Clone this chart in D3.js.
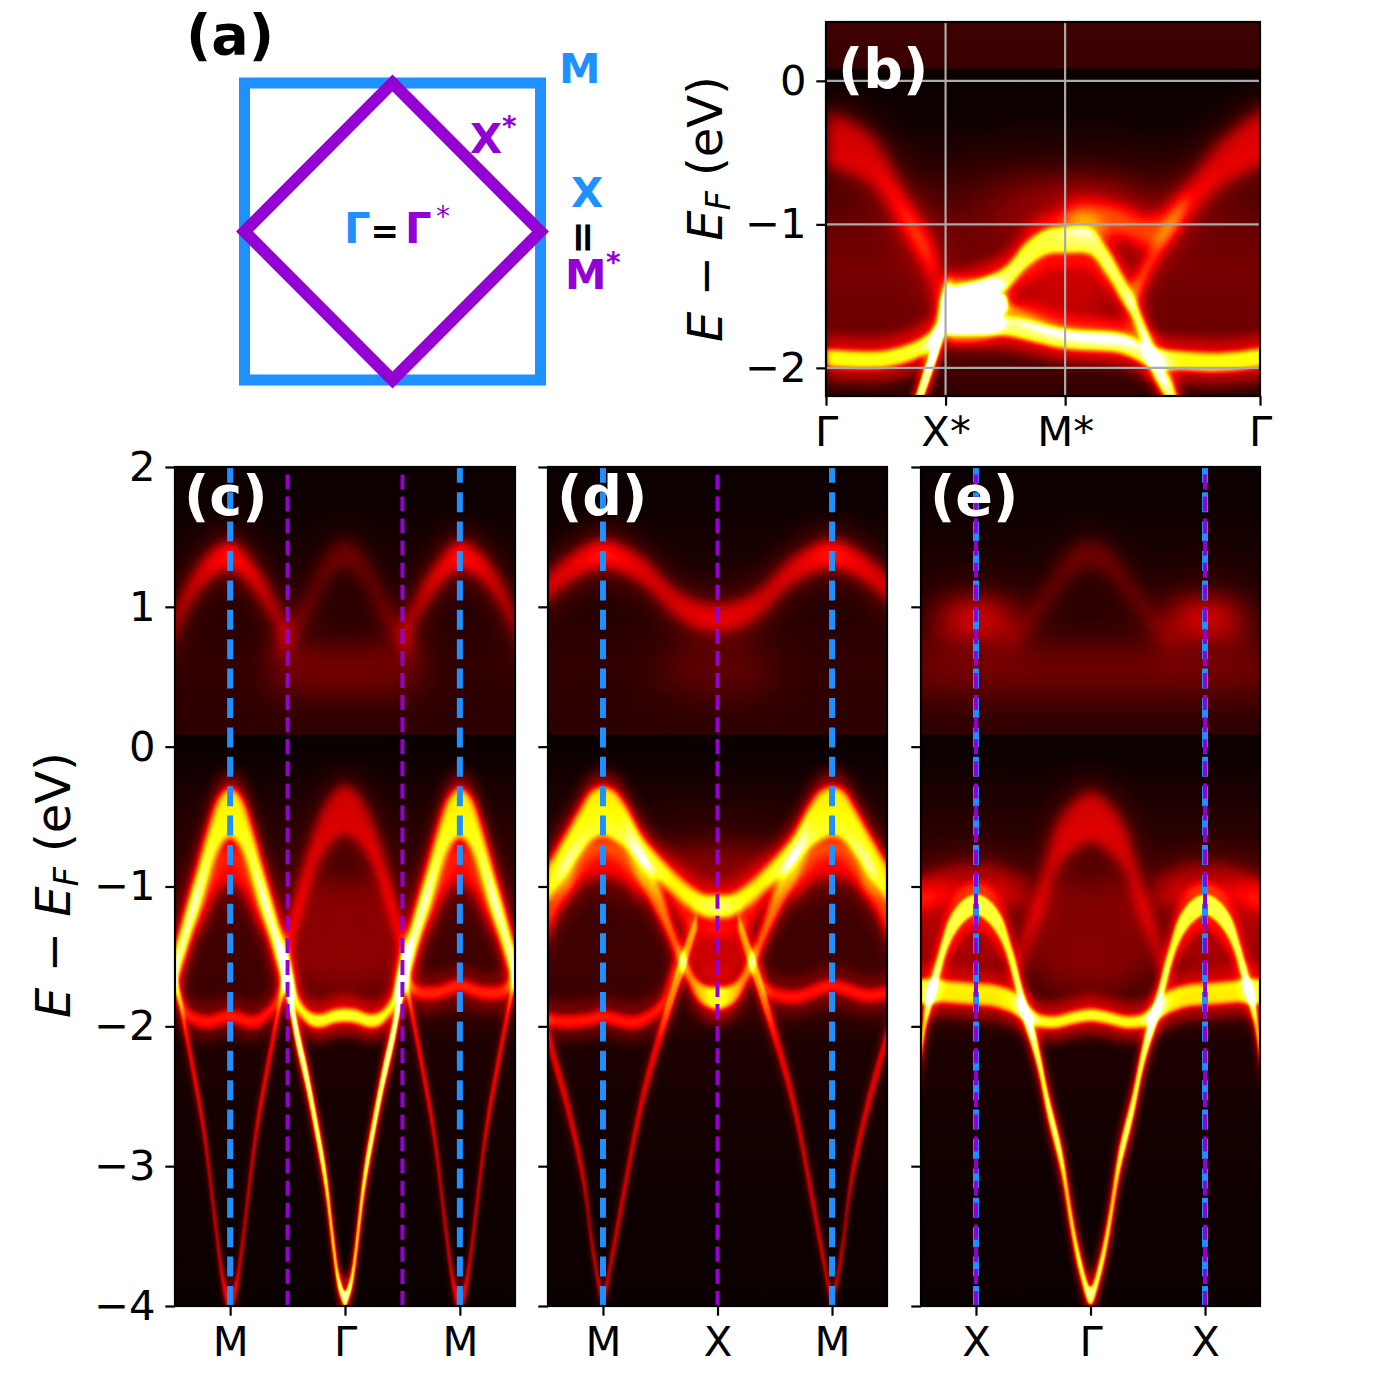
<!DOCTYPE html>
<html>
<head>
<meta charset="utf-8">
<script src="https://cdnjs.cloudflare.com/ajax/libs/d3/7.8.5/d3.min.js"></script>
<style>
    html, body { margin: 0; padding: 0; background: #fff; }
    text { font-family: "DejaVu Sans"; }
    .band { mix-blend-mode: plus-lighter; }
</style>
</head>
<body>
<svg id="chart" width="1400" height="1400" viewBox="0 0 1400 1400"></svg>
<script>
//----- COLOUR MAP (matplotlib hot) ----------------//
var hotStops = [0, 0.365079, 0.746032, 1];
var hotR = [0.0416, 1, 1, 1];
var hotG = [0, 0, 1, 1];
var hotB = [0, 0, 0, 1];

//----- BACKGROUND SPECTRAL WEIGHT vs ENERGY --------//
var bgE = [2, 1.6, 1.2, 0.6, 0.09, 0.08, 0, -0.2, -0.5, -1, -1.5, -1.85, -2.1, -2.5, -3, -4];
var bgI = [0, 0.01, 0.03, 0.06, 0.05, 0, 0, 0.015, 0.04, 0.07, 0.08, 0.07, 0.03, 0.02, 0.01, 0];
var bBgE = [0.41, 0.09, 0.08, 0, -0.3, -0.6, -1, -1.3, -1.7, -1.95, -2.05, -2.2];
var bBgI = [0.08, 0.07, 0, 0, 0.01, 0.05, 0.14, 0.16, 0.15, 0.1, 0.08, 0.06];

//----- PANEL (c) M-GAMMA-M -------------------------//
var cValK = [0.46, 0.5, 0.6, 0.7, 0.8, 0.9, 1, 1.1, 1.2, 1.3, 1.4, 1.5, 1.54];
var cValE = [-1.75, -1.63, -1.36, -1.08, -0.78, -0.55, -0.47, -0.55, -0.78, -1.08, -1.36, -1.63, -1.75];
var cValI = [0.85, 0.92, 0.86, 0.76, 0.68, 0.66, 0.66, 0.66, 0.68, 0.76, 0.86, 0.92, 0.85];
var cValW = [0.1, 0.12, 0.16, 0.18, 0.2, 0.21, 0.2, 0.21, 0.2, 0.18, 0.16, 0.12, 0.1];
var cInnerK = [0.7, 0.8, 0.9, 1, 1.1, 1.2, 1.3];
var cInnerE = [-1.25, -1.05, -0.9, -0.85, -0.9, -1.05, -1.25];
var cVeeK = [0, 0.03, 0.06, 0.1, 0.17, 0.25, 0.33, 0.43, 0.5, 0.56];
var cVeeE = [-3.95, -3.9, -3.81, -3.57, -3.09, -2.72, -2.38, -2.02, -1.7, -1.45];
var cVeeI = [0.88, 0.88, 0.88, 0.88, 0.88, 0.88, 0.88, 0.88, 0.75, 0];
var cVeeW = [0.06, 0.06, 0.07, 0.09, 0.1, 0.1, 0.1, 0.1, 0.1, 0.1];
var cMVeeK = [0.5, 0.57, 0.65, 0.77, 0.87, 0.9, 0.94, 0.97, 1, 1.03, 1.06, 1.1, 1.13, 1.23, 1.35, 1.43, 1.5];
var cMVeeE = [-1.55, -1.85, -2.19, -2.74, -3.4, -3.6, -3.83, -3.93, -3.97, -3.93, -3.83, -3.6, -3.4, -2.74, -2.19, -1.85, -1.55];
var cFlatK = [0, 0.1, 0.2, 0.3, 0.4, 0.46, 0.52];
var cFlatE = [-1.92, -1.93, -1.96, -1.95, -1.86, -1.74, -1.6];
var cLeftK = [-1.6, -1.48, -1.43, -1.35, -1.2, -1, -0.8, -0.7, -0.6, -0.55, -0.5];
var cLeftE = [-1.6, -1.72, -1.82, -1.93, -1.97, -1.93, -1.97, -1.93, -1.83, -1.72, -1.6];
var cRightK = [0.5, 0.55, 0.62, 0.8, 1, 1.2, 1.38, 1.45, 1.52, 1.6];
var cRightE = [-1.55, -1.68, -1.75, -1.76, -1.71, -1.76, -1.75, -1.68, -1.55, -1.4];
var cDomeK = [0, 0.1, 0.2, 0.3, 0.38, 0.43, 0.5, 0.55];
var cDomeE = [-0.45, -0.5, -0.62, -0.82, -1.05, -1.2, -1.4, -1.55];
var cDomeI = [0.25, 0.25, 0.25, 0.27, 0.34, 0.38, 0.4, 0.36];
var cDomeW = [0.2, 0.2, 0.19, 0.16, 0.12, 0.1, 0.08, 0.07];
var cFillK = [0, 0.2, 0.35, 0.45, 0.5];
var cFillE = [-1.35, -1.35, -1.4, -1.5, -1.6];
var cFillW = [0.45, 0.45, 0.4, 0.2, 0.1];
var cUpK = [0.5, 0.6, 0.7, 0.8, 0.9, 1, 1.1, 1.2, 1.3, 1.4, 1.5, 1.6];
var cUpE = [0.78, 0.95, 1.1, 1.22, 1.32, 1.37, 1.34, 1.28, 1.17, 1.03, 0.84, 0.6];
var cUpI = [0.18, 0.2, 0.27, 0.3, 0.32, 0.36, 0.32, 0.3, 0.27, 0.24, 0.22, 0.2];
var cUpGK = [0, 0.1, 0.2, 0.3, 0.4, 0.5, 0.6];
var cUpGE = [1.38, 1.34, 1.22, 1.05, 0.9, 0.78, 0.7];
var cUpGI = [0.12, 0.12, 0.12, 0.12, 0.12, 0.15, 0.09];
var cGlowK = [0, 0.3, 0.6, 0.75];
var cGlowI = [0.09, 0.09, 0.07, 0];

//----- PANEL (d) M-X-M ------------------------------//
var dUpK = [0, 0.2, 0.4, 0.6, 0.8, 1, 1.2, 1.4, 1.6];
var dUpE = [0.92, 0.95, 1.05, 1.22, 1.33, 1.38, 1.32, 1.2, 1.05];
var dUpI = [0.26, 0.26, 0.25, 0.27, 0.31, 0.36, 0.31, 0.27, 0.25];
var dGlowK = [0, 0.3, 0.6];
var dGlowI = [0.07, 0.06, 0];
var dValK = [0, 0.1, 0.2, 0.35, 0.5, 0.66, 0.8, 0.9, 1, 1.1, 1.2, 1.35, 1.48, 1.6];
var dValE = [-1.14, -1.14, -1.1, -1, -0.88, -0.74, -0.57, -0.49, -0.46, -0.49, -0.6, -0.8, -0.97, -1.1];
var dValI = [0.7, 0.66, 0.6, 0.54, 0.56, 0.6, 0.66, 0.66, 0.66, 0.66, 0.66, 0.62, 0.58, 0.55];
var dValW = [0.09, 0.09, 0.09, 0.09, 0.1, 0.12, 0.17, 0.2, 0.2, 0.2, 0.18, 0.16, 0.15, 0.14];
var dInnerK = [0.65, 0.8, 1, 1.2, 1.35];
var dInnerE = [-1, -0.85, -0.8, -0.85, -1];
var dArmK = [0, 0.15, 0.3, 0.47, 0.58, 0.7, 0.8];
var dArmE = [-1.8, -1.76, -1.54, -1.19, -1, -0.8, -0.62];
var dArmI = [0.7, 0.55, 0.4, 0.42, 0.38, 0.2, 0.05];
var dArmW = [0.09, 0.08, 0.08, 0.12, 0.14, 0.16, 0.18];
var dEdgeK = [1.25, 1.4, 1.48, 1.6];
var dEdgeE = [-0.9, -1.1, -1.25, -1.45];
var dEdgeI = [0.1, 0.3, 0.35, 0.3];
var dVeeK = [0.18, 0.3, 0.38, 0.53, 0.67, 0.82, 0.92, 1, 1.08, 1.17, 1.31, 1.45, 1.6];
var dVeeE = [-1.25, -1.54, -1.74, -2.14, -2.57, -3.2, -3.64, -3.93, -3.64, -3.09, -2.57, -2.16, -1.7];
var dVeeI = [0.25, 0.4, 0.42, 0.3, 0.28, 0.28, 0.28, 0.3, 0.28, 0.28, 0.28, 0.28, 0.28];
var dVeeW = [0.07, 0.1, 0.1, 0.09, 0.09, 0.09, 0.08, 0.06, 0.08, 0.09, 0.09, 0.09, 0.09];
var dLeftK = [-1.6, -1.48, -1.3, -1.1, -1, -0.9, -0.7, -0.5, -0.42, -0.36];
var dLeftE = [-1.9, -1.95, -1.97, -1.95, -1.93, -1.95, -1.97, -1.86, -1.69, -1.55];
var dRightK = [0.36, 0.42, 0.5, 0.7, 0.9, 1, 1.1, 1.3, 1.48, 1.6];
var dRightE = [-1.55, -1.72, -1.77, -1.79, -1.73, -1.71, -1.73, -1.78, -1.76, -1.72];
var dFillK = [0, 0.2, 0.4, 0.6, 0.7];
var dFillE = [-0.85, -0.85, -0.85, -0.95, -0.95];
var dFillI = [0.13, 0.13, 0.12, 0.08, 0];
var dRingK = [0, 0.1, 0.2, 0.3, 0.4];
var dRingE = [-1.45, -1.45, -1.4, -1.2, -1.05];
var dRingI = [0.2, 0.2, 0.2, 0.26, 0.12];
var dRingW = [0.2, 0.2, 0.17, 0.1, 0.05];

//----- PANEL (e) X-GAMMA-X --------------------------//
var eBandK = [0, 0.09, 0.17, 0.25, 0.37, 0.46, 0.57, 0.69, 0.78, 0.9, 1, 1.1, 1.22, 1.31, 1.43, 1.48, 1.6];
var eBandE = [-3.93, -3.71, -3.38, -2.97, -2.57, -2.21, -1.9, -1.52, -1.3, -1.17, -1.13, -1.17, -1.3, -1.52, -1.9, -2.14, -2.6];
var eBandI = [0.86, 0.86, 0.86, 0.86, 0.86, 0.84, 0.75, 0.6, 0.55, 0.52, 0.52, 0.52, 0.55, 0.6, 0.66, 0.75, 0.8];
var eBandW = [0.07, 0.08, 0.09, 0.1, 0.1, 0.1, 0.1, 0.1, 0.1, 0.09, 0.08, 0.09, 0.1, 0.1, 0.1, 0.1, 0.1];
var eFlatK = [0, 0.15, 0.3, 0.45, 0.57, 0.7, 0.85, 1, 1.15, 1.3, 1.48, 1.6];
var eFlatE = [-1.92, -1.94, -1.97, -1.96, -1.9, -1.82, -1.78, -1.77, -1.76, -1.75, -1.75, -1.75];
var eFlatI = [0.68, 0.68, 0.68, 0.68, 0.74, 0.62, 0.6, 0.6, 0.6, 0.6, 0.64, 0.64];
var eFlatW = [0.05, 0.05, 0.05, 0.05, 0.06, 0.09, 0.09, 0.09, 0.09, 0.09, 0.1, 0.1];
var eDomeK = [0, 0.15, 0.3, 0.43, 0.58, 0.66];
var eDomeE = [-0.5, -0.57, -0.72, -1.07, -1.43, -1.65];
var eDomeI = [0.26, 0.25, 0.25, 0.27, 0.27, 0.25];
var eDomeW = [0.2, 0.2, 0.18, 0.13, 0.1, 0.08];
var eFillK = [0, 0.2, 0.4, 0.5];
var eFillW = [0.45, 0.45, 0.4, 0.2];
var eXGlowK = [0.7, 0.85, 1, 1.15, 1.3, 1.48, 1.6];
var eArcK = [0.55, 0.7, 0.85, 1, 1.15, 1.3, 1.48, 1.6];
var eArcE = [-1.05, -1, -0.95, -0.95, -0.95, -1, -1.05, -1.1];
var eArcI = [0.12, 0.14, 0.14, 0.14, 0.14, 0.17, 0.2, 0.2];
var eUpK = [0, 0.15, 0.3, 0.45, 0.6, 0.75];
var eUpE = [1.38, 1.33, 1.18, 1, 0.85, 0.75];
var eUpI = [0.12, 0.12, 0.11, 0.09, 0.07, 0.04];
var eBlobK = [0.55, 0.7, 0.85, 1, 1.15, 1.3, 1.45];
var eBlobE = [0.88, 0.9, 0.92, 0.92, 0.92, 0.9, 0.88];
var eBlobI = [0, 0.12, 0.22, 0.24, 0.22, 0.12, 0.03];
var eGlowK = [0, 0.8, 1.6];

//----- PANEL (b) GAMMA-X*-M*-GAMMA ------------------//
var bFlatK = [0, 0.48, 0.79, 0.92, 0.97, 1.03];
var bFlatE = [-1.93, -1.94, -1.86, -1.77, -1.58, -1.45];
var bFlatI = [0.62, 0.62, 0.64, 0.7, 0.6, 0.3];
var bLegK = [0, 0.37, 0.65, 0.87, 0.95, 1];
var bLegE = [-0.4, -0.54, -0.91, -1.24, -1.51, -1.6];
var bLegI = [0.28, 0.25, 0.3, 0.4, 0.42, 0.38];
var bLegW = [0.22, 0.2, 0.15, 0.12, 0.1, 0.08];
var bVeeK = [0.6, 0.787, 0.92, 1, 1.05];
var bVeeE = [-2.7, -2.19, -1.86, -1.63, -1.45];
var bVeeI = [0.8, 0.8, 0.8, 0.8, 0];
var bTopK = [1, 1.34, 1.51, 1.68, 1.85, 2, 2.21, 2.35, 2.46, 2.57, 2.69, 2.79, 2.89, 3];
var bTopE = [-1.52, -1.44, -1.37, -1.21, -1.12, -1.11, -1.12, -1.26, -1.42, -1.58, -1.84, -2.05, -2.19, -2.45];
var bTopI = [0.62, 0.64, 0.62, 0.58, 0.58, 0.58, 0.58, 0.6, 0.62, 0.66, 0.72, 0.75, 0.8, 0.8];
var bTopW = [0.08, 0.08, 0.09, 0.1, 0.1, 0.1, 0.1, 0.1, 0.1, 0.09, 0.1, 0.1, 0.1, 0.1];
var bWhiteK = [1, 1.1, 1.25, 1.4, 1.5];
var bWhiteE = [-1.6, -1.6, -1.6, -1.58, -1.55];
var bWhiteW = [0.12, 0.12, 0.12, 0.11, 0.05];
var bBotK = [1, 1.2, 1.51, 2, 2.46, 2.74, 3, 3.3, 3.63, 3.8];
var bBotE = [-1.7, -1.7, -1.71, -1.8, -1.83, -1.93, -1.95, -1.96, -1.93, -1.9];
var bBotI = [0.68, 0.68, 0.62, 0.58, 0.6, 0.66, 0.62, 0.62, 0.62, 0.62];
var bLoopK = [1.46, 1.6, 2, 2.5, 2.6];
var bLoopE = [-1.55, -1.63, -1.76, -1.8, -1.82];
var bDomeK = [2, 2.2, 2.46, 2.74, 3.02, 3.3, 3.63, 3.8];
var bDomeE = [-0.95, -0.95, -0.98, -1.05, -0.84, -0.58, -0.4, -0.35];
var bDomeI = [0.2, 0.28, 0.28, 0.28, 0.26, 0.26, 0.28, 0.28];
var bDomeW = [0.12, 0.12, 0.12, 0.12, 0.14, 0.18, 0.22, 0.22];
var bBranchK = [2.55, 2.63, 2.74, 2.9, 3.02];
var bBranchE = [-1.5, -1.4, -1.22, -1, -0.84];
var bBranchI = [0.3, 0.33, 0.22, 0.18, 0.08];
var bCoreK = [1.6, 1.8, 2, 2.2, 2.4];
var bCoreI = [0.08, 0.12, 0.12, 0.12, 0.08];
var bGlowK = [1.2, 1.6, 2, 2.4, 2.8];
var bGlowI = [0, 0.08, 0.12, 0.08, 0];

//----- TICKS AND LABELS -----------------------------//
var energyTicks = [2, 1, 0, -1, -2, -3, -4];
var bEnergyTicks = [0, -1, -2];
var cTickK = [-1, 0, 1];
var cTickLabels = ['M', '\u0393', 'M'];
var dTickLabels = ['M', 'X', 'M'];
var eTickLabels = ['X', '\u0393', 'X'];
var bTickK = [0, 1, 2, 3.63];
var bTickLabels = ['\u0393', 'X*', 'M*', '\u0393'];
var bGridE = [0, -1, -2];
var bGridK = [1, 2];
var squareX = [-1, 1, 1, -1];
var squareY = [1, 1, -1, -1];
var diamondX = [0, 1, 0, -1];
var diamondY = [1, 0, -1, 0];

//----- SETTINGS ---------------------------------------//
var BLUE = '#1e90ff',
    VIOLET = '#9400d3',
    TICK_FONT = 41.7,
    LABEL_FONT = 48,
    TAG_FONT = 55.5,
    STROKE = 2.2,
    TICK_LEN = 9.7,
    TICK_PAD = 11;

// a broadened peak is drawn as a sharp core on top of a wide skirt
var LAYERS = [
    { w: 1, add: 0.09, i: 0.28, s: 2.2 },
    { w: 0.88, add: 0, i: 0.78, s: 1 }
];

var svg = d3.select('#chart');
var defs = svg.append('defs');

// hot colour map as a filter on the summed grey weight
var hotFilter = defs.append('filter').attr('id', 'hot')
    .attr('filterUnits', 'userSpaceOnUse')
    .attr('x', 0).attr('y', 0).attr('width', 1400).attr('height', 1400)
    .attr('color-interpolation-filters', 'sRGB');
var transfer = hotFilter.append('feComponentTransfer');
function addChannel(tag, values) {
    var scale = d3.scaleLinear().domain(hotStops).range(values);
    transfer.append(tag).attr('type', 'table')
        .attr('tableValues', d3.range(0, 256).map(function (i) { return scale(i / 255).toFixed(4); }).join(' '));
}
addChannel('feFuncR', hotR);
addChannel('feFuncG', hotG);
addChannel('feFuncB', hotB);

var blurIds = {};
function blurId(sigma) {
    var id = 'blur' + String(sigma.toFixed(2)).replace('.', '_');
    if (!blurIds[id]) {
        blurIds[id] = true;
        defs.append('filter').attr('id', id)
            .attr('filterUnits', 'userSpaceOnUse')
            .attr('x', 0).attr('y', 0).attr('width', 1400).attr('height', 1400)
            .attr('color-interpolation-filters', 'sRGB')
            .append('feGaussianBlur').attr('stdDeviation', sigma);
    }
    return 'url(#' + id + ')';
}

function grey(i) {
    var v = Math.round(Math.min(1, Math.max(0, i)) * 255);
    return 'rgb(' + v + ',' + v + ',' + v + ')';
}

function at(v, i) { return typeof v === 'number' ? v : v[i]; }

// one broadened band: [k, E, weight, half width, blur px, mode]
// mode 'unfold' reflects through k=0 as one shape, 'mirror' draws a second copy at -k
function expandBand(b) {
    var pts = b[0].map(function (k, i) {
        return { k: k, E: b[1][i], I: at(b[2], i), W: at(b[3], i) };
    });
    var mode = b[5];
    if (mode === 'unfold') {
        var left = pts.slice(1).map(function (p) { return { k: -p.k, E: p.E, I: p.I, W: p.W }; });
        return [left.concat(pts)];
    }
    if (mode === 'mirror') {
        return [pts, pts.map(function (p) { return { k: -p.k, E: p.E, I: p.I, W: p.W }; })];
    }
    return [pts];
}

var gradCount = 0;

function drawPanel(p) {
    var x = d3.scaleLinear().domain(p.kDomain).range([p.left, p.right]);
    var y = d3.scaleLinear().domain(p.eDomain).range([p.top, p.bottom]);
    var W = p.right - p.left, H = p.bottom - p.top;

    defs.append('clipPath').attr('id', 'clip' + p.id)
        .append('rect').attr('x', p.left).attr('y', p.top).attr('width', W).attr('height', H);

    var bg = defs.append('linearGradient').attr('id', 'bg' + p.id)
        .attr('gradientUnits', 'userSpaceOnUse')
        .attr('x1', 0).attr('x2', 0)
        .attr('y1', y(p.bgE[0])).attr('y2', y(p.bgE[p.bgE.length - 1]));
    var bgSpan = p.bgE[p.bgE.length - 1] - p.bgE[0];
    p.bgE.forEach(function (e, i) {
        bg.append('stop').attr('offset', (e - p.bgE[0]) / bgSpan).attr('stop-color', grey(p.bgI[i]));
    });

    var root = svg.append('g').attr('clip-path', 'url(#clip' + p.id + ')');
    var heat = root.append('g').attr('filter', 'url(#hot)').style('isolation', 'isolate');
    heat.append('rect').attr('x', p.left).attr('y', p.top).attr('width', W).attr('height', H).attr('fill', '#000');
    heat.append('rect').attr('class', 'band').attr('x', p.left).attr('y', p.top).attr('width', W).attr('height', H)
        .attr('fill', 'url(#bg' + p.id + ')');

    p.bands.forEach(function (b) {
        expandBand(b).forEach(function (pts) {
            pts = pts.slice().sort(function (u, v) { return u.k - v.k; });
            var k0 = pts[0].k, k1 = pts[pts.length - 1].k;
            LAYERS.forEach(function (layer) {
                var area = d3.area()
                    .x(function (d) { return x(d.k); })
                    .y0(function (d) { return y(d.E + d.W * layer.w + layer.add); })
                    .y1(function (d) { return y(d.E - d.W * layer.w - layer.add); })
                    .curve(d3.curveCatmullRom);
                var gid = 'g' + (gradCount++);
                var grad = defs.append('linearGradient').attr('id', gid)
                    .attr('gradientUnits', 'userSpaceOnUse')
                    .attr('x1', x(k0)).attr('x2', x(k1)).attr('y1', 0).attr('y2', 0);
                pts.forEach(function (d) {
                    grad.append('stop').attr('offset', (d.k - k0) / (k1 - k0)).attr('stop-color', grey(d.I * layer.i));
                });
                heat.append('path').attr('class', 'band')
                    .attr('d', area(pts))
                    .attr('fill', 'url(#' + gid + ')')
                    .attr('filter', blurId(b[4] * layer.s));
            });
        });
    });

    // dashed or grey guide lines
    (p.guides || []).forEach(function (g) {
        root.selectAll(null).data(g.k).enter().append('line')
            .attr('x1', function (d) { return x(d); })
            .attr('x2', function (d) { return x(d); })
            .attr('y1', p.bottom).attr('y2', p.top)
            .attr('stroke', g.color).attr('stroke-width', g.width)
            .attr('stroke-dasharray', g.dash || null);
    });
    (p.gridE || []).forEach(function (e) {
        root.append('line').attr('x1', p.left).attr('x2', p.right)
            .attr('y1', y(e)).attr('y2', y(e))
            .attr('stroke', '#aaaaaa').attr('stroke-width', 2.2);
    });

    // axes
    var yAxis = d3.axisLeft(y).tickValues(p.eTicks).tickSize(TICK_LEN).tickPadding(TICK_LEN);
    yAxis.tickFormat(p.showE ? d3.format('d') : '');
    var xAxis = d3.axisBottom(x).tickValues(p.kTicks).tickSize(TICK_LEN).tickPadding(TICK_PAD)
        .tickFormat(function (d, i) { return p.kLabels[i]; });
    [svg.append('g').attr('transform', 'translate(' + p.left + ',0)').call(yAxis),
     svg.append('g').attr('transform', 'translate(0,' + p.bottom + ')').call(xAxis)].forEach(function (ax) {
        ax.attr('font-family', 'DejaVu Sans').attr('font-size', TICK_FONT);
        ax.select('.domain').remove();
        ax.selectAll('line').attr('stroke', '#000').attr('stroke-width', STROKE);
        ax.selectAll('text').attr('fill', '#000');
    });

    svg.append('rect').attr('x', p.left).attr('y', p.top).attr('width', W).attr('height', H)
        .attr('fill', 'none').attr('stroke', '#000').attr('stroke-width', STROKE);

    svg.append('text').attr('x', p.tagX).attr('y', p.tagY).attr('fill', '#fff')
        .attr('font-size', TAG_FONT).attr('font-weight', 'bold').text(p.tag);
}

function blueLines(k) { return { k: k, color: BLUE, width: 6, dash: '20 9.4' }; }
function violetLines(k) { return { k: k, color: VIOLET, width: 4, dash: '15 7.07' }; }

var cPanel = {
    id: 'c', left: 175, right: 515, top: 467, bottom: 1306,
    kDomain: [-1.48, 1.48], eDomain: [2, -4], bgE: bgE, bgI: bgI,
    eTicks: energyTicks, showE: true, kTicks: cTickK, kLabels: cTickLabels,
    tag: '(c)', tagX: 184, tagY: 515,
    guides: [blueLines([-1, 1]), violetLines([-0.5, 0.5])],
    bands: [
        [cGlowK, cGlowK.map(function () { return 0.55; }), cGlowI, 0.2, 10, 'unfold'],
        [cFillK, cFillE, 0.11, cFillW, 12, 'unfold'],
        [cUpK, cUpE, cUpI, 0.11, 5.5, 'mirror'],
        [cUpGK, cUpGE, cUpGI, 0.11, 6.5, 'unfold'],
        [cDomeK, cDomeE, cDomeI, cDomeW, 5, 'unfold'],
        [cInnerK, cInnerE, 0.28, 0.14, 6, 'mirror'],
        [cValK, cValE, cValI, cValW, 3, 'mirror'],
        [cVeeK, cVeeE, cVeeI, cVeeW, 1.2, 'unfold'],
        [cMVeeK, cMVeeE, 0.34, 0.08, 1.2, 'mirror'],
        [cFlatK, cFlatE, 0.68, 0.055, 2.5, 'unfold'],
        [cLeftK, cLeftE, 0.32, 0.055, 2.5],
        [cRightK, cRightE, 0.32, 0.055, 2.5]
    ]
};

var dPanel = {
    id: 'd', left: 548, right: 887, top: 467, bottom: 1306,
    kDomain: [-1.48, 1.48], eDomain: [2, -4], bgE: bgE, bgI: bgI,
    eTicks: energyTicks, showE: false, kTicks: cTickK, kLabels: dTickLabels,
    tag: '(d)', tagX: 557, tagY: 515,
    guides: [blueLines([-1, 1]), violetLines([0])],
    bands: [
        [dGlowK, dGlowK.map(function () { return 0.55; }), dGlowI, 0.2, 12, 'unfold'],
        [dFillK, dFillE, dFillI, 0.15, 12, 'unfold'],
        [dUpK, dUpE, dUpI, 0.11, 5.5, 'unfold'],
        [dRingK, dRingE, dRingI, dRingW, 5, 'unfold'],
        [dInnerK, dInnerE, 0.28, 0.15, 6, 'mirror'],
        [dValK, dValE, dValI, dValW, 3, 'unfold'],
        [dArmK, dArmE, dArmI, dArmW, 2.5, 'unfold'],
        [dEdgeK, dEdgeE, dEdgeI, 0.12, 4, 'mirror'],
        [dVeeK, dVeeE, dVeeI, dVeeW, 1.3, 'mirror'],
        [dLeftK, dLeftE, 0.32, 0.055, 2.5],
        [dRightK, dRightE, 0.3, 0.055, 2.5]
    ]
};

var ePanel = {
    id: 'e', left: 921, right: 1260, top: 467, bottom: 1306,
    kDomain: [-1.48, 1.48], eDomain: [2, -4], bgE: bgE, bgI: bgI,
    eTicks: energyTicks, showE: false, kTicks: cTickK, kLabels: eTickLabels,
    tag: '(e)', tagX: 930, tagY: 515,
    guides: [blueLines([-1, 1]), violetLines([-1, 1])],
    bands: [
        [eGlowK, eGlowK.map(function () { return 0.55; }), 0.09, 0.2, 14, 'unfold'],
        [eUpK, eUpE, eUpI, 0.11, 7, 'unfold'],
        [eBlobK, eBlobE, eBlobI, 0.16, 10, 'mirror'],
        [eFillK, eFillK.map(function () { return -1.35; }), 0.1, eFillW, 12, 'unfold'],
        [eXGlowK, eXGlowK.map(function () { return -1.3; }), 0.15, 0.32, 9, 'mirror'],
        [eArcK, eArcE, eArcI, 0.13, 6, 'mirror'],
        [eDomeK, eDomeE, eDomeI, eDomeW, 6, 'unfold'],
        [eBandK, eBandE, eBandI, eBandW, 1.6, 'unfold'],
        [eFlatK, eFlatE, eFlatI, eFlatW, 2.5, 'unfold']
    ]
};

var bPanel = {
    id: 'b', left: 826, right: 1260, top: 22, bottom: 396,
    kDomain: [0, 3.63], eDomain: [0.41, -2.196], bgE: bBgE, bgI: bBgI,
    eTicks: bEnergyTicks, showE: true, kTicks: bTickK, kLabels: bTickLabels,
    tag: '(b)', tagX: 838, tagY: 88,
    guides: [{ k: bGridK, color: '#aaaaaa', width: 2.2 }], gridE: bGridE,
    bands: [
        [bGlowK, bGlowK.map(function () { return -0.85; }), bGlowI, 0.2, 14],
        [bCoreK, bCoreK.map(function () { return -1.45; }), bCoreI, 0.2, 8],
        [bLegK, bLegE, bLegI, bLegW, 7],
        [bDomeK, bDomeE, bDomeI, bDomeW, 7],
        [bBranchK, bBranchE, bBranchI, 0.1, 4],
        [bLoopK, bLoopE, 0.25, 0.05, 3],
        [bFlatK, bFlatE, bFlatI, 0.07, 2.5],
        [bVeeK, bVeeE, bVeeI, 0.1, 1.3],
        [bTopK, bTopE, bTopI, bTopW, 2.5],
        [bWhiteK, bWhiteE, 1.1, bWhiteW, 2],
        [bBotK, bBotE, bBotI, 0.075, 2.5]
    ]
};

[bPanel, cPanel, dPanel, ePanel].forEach(drawPanel);

//----- PANEL (a) BRILLOUIN ZONES ----------------------//
var zoneX = d3.scaleLinear().domain([-1, 1]).range([244.5, 540.5]);
var zoneY = d3.scaleLinear().domain([-1, 1]).range([380, 83]);
var zoneLine = d3.line().curve(d3.curveLinearClosed);
svg.append('path')
    .attr('d', zoneLine(squareX.map(function (v, i) { return [zoneX(v), zoneY(squareY[i])]; })))
    .attr('fill', 'none').attr('stroke', BLUE).attr('stroke-width', 11);
svg.append('path')
    .attr('d', zoneLine(diamondX.map(function (v, i) { return [zoneX(v), zoneY(diamondY[i])]; })))
    .attr('fill', 'none').attr('stroke', VIOLET).attr('stroke-width', 12);

function label(x, y, str, color, size, weight, rotate) {
    var t = svg.append('text').attr('x', x).attr('y', y).attr('fill', color)
        .attr('font-size', size).attr('font-weight', weight || 'bold').text(str);
    if (rotate) t.attr('transform', 'rotate(' + rotate + ' ' + x + ' ' + y + ')');
    return t;
}

label(186, 54, '(a)', '#000', TAG_FONT);
label(559, 83, 'M', BLUE, TICK_FONT);
label(470, 153, 'X', VIOLET, TICK_FONT);
label(502, 136, '*', VIOLET, 28);
var gammaEq = svg.append('text').attr('x', 344).attr('y', 243)
    .attr('font-size', TICK_FONT).attr('font-weight', 'bold');
gammaEq.append('tspan').attr('fill', BLUE).text('\u0393');
gammaEq.append('tspan').attr('fill', '#000').attr('font-size', 34).text('=');
gammaEq.append('tspan').attr('fill', VIOLET).attr('dx', 6).text('\u0393');
label(436, 226, '*', VIOLET, 28, 'normal');
label(571, 207, 'X', BLUE, TICK_FONT);
label(570, 220, '=', '#000', TICK_FONT, 'bold', 90);
label(565, 289, 'M', VIOLET, TICK_FONT);
label(606, 272, '*', VIOLET, 28);

//----- AXIS TITLES ------------------------------------//
function energyTitle(x, y) {
    var t = svg.append('text').attr('transform', 'translate(' + x + ',' + y + ') rotate(-90)')
        .attr('text-anchor', 'middle').attr('font-size', LABEL_FONT).attr('fill', '#000');
    t.append('tspan').attr('font-style', 'italic').text('E');
    t.append('tspan').text(' \u2212 ');
    t.append('tspan').attr('font-style', 'italic').text('E');
    t.append('tspan').attr('font-style', 'italic').attr('font-size', LABEL_FONT * 0.7).attr('dy', 8).text('F');
    t.append('tspan').attr('dy', -8).text(' (eV)');
}
energyTitle(70, 885);
energyTitle(722, 209);
</script>
</body>
</html>
